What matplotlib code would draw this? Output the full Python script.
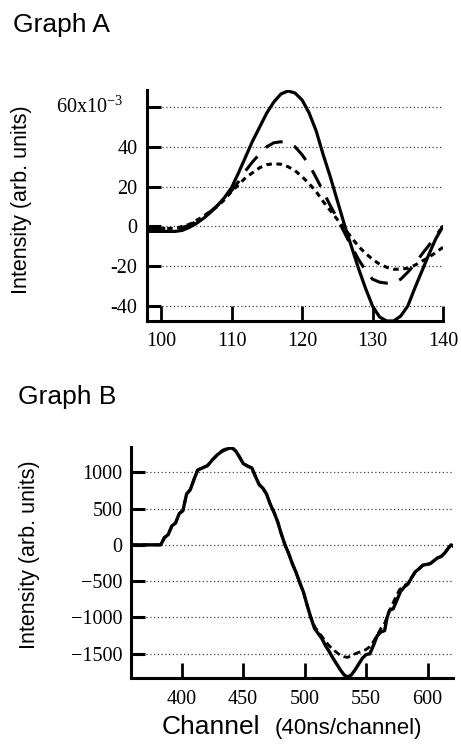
import matplotlib
matplotlib.use("Agg")
import matplotlib.pyplot as plt
from matplotlib.transforms import blended_transform_factory

plt.rcParams['mathtext.fontset'] = 'stix'

# Graph A data (channel, intensity x 1e-3)
a_ch = list(range(98, 141))
a_solid = [-2.5, -2.5, -2.5, -2.5, -2.5, -2, -0.5, 1.5, 4, 7, 10.5, 14.5, 19.5, 27, 35, 43, 50, 57,
           62.5, 66.5, 68, 67, 63.5, 57, 48, 36, 25, 13, 1, -10, -21, -31, -40, -45.5, -47.5, -47.5,
           -45, -40, -31, -22.5, -14, -6, 0]
a_dash = [-1, -1, -1, -1, -1, -0.5, 0.5, 2.5, 5, 7.5, 10.5, 14, 18, 22.5, 28, 32.5, 36.5, 40,
          42, 42.5, 42, 40, 36, 31, 24.5, 17.5, 10.5, 4, -3, -10, -16.5, -22, -26.5, -28, -28.5,
          -28.5, -26.5, -23, -19, -14, -9.5, -4.5, 0]
a_dot = [-1, -1, -1, -1, -1, 0, 1, 3, 5, 7.5, 10, 13.5, 17.5, 21, 24.5, 27, 29.5, 31, 31.5,
         31.2, 30, 28, 25, 21.5, 17.5, 12.5, 8, 3.5, -1, -5.5, -10, -13.5, -16.5, -19, -20.5,
         -21.5, -21.5, -21, -19.5, -17.5, -15.5, -13, -10.5]

# Graph B data
b_ch = [359, 383, 386, 389, 392, 395, 398, 401, 404, 407, 410, 413, 417, 421, 425, 429, 433,
        437, 441, 444, 447, 450, 454, 457, 460, 463, 466, 469, 472, 475, 478, 481, 484, 487,
        490, 493, 496, 499, 502, 505, 508, 511, 514, 517, 520, 523, 526, 529, 532, 535, 538,
        541, 544, 547, 550, 553, 556, 559, 562, 565, 567, 569, 572, 575, 578, 581, 584, 587,
        590, 593, 596, 599, 602, 605, 608, 611, 614, 617, 619, 621]
b_solid = [0, 0, 100, 140, 260, 300, 430, 470, 700, 760, 900, 1030, 1060, 1090, 1170, 1240,
           1290, 1320, 1340, 1290, 1210, 1120, 1080, 1060, 940, 830, 780, 700, 560, 450, 320,
           150, 0, -120, -260, -380, -520, -650, -830, -1000, -1150, -1220, -1290, -1390, -1470,
           -1560, -1640, -1720, -1790, -1820, -1790, -1720, -1640, -1560, -1510, -1500, -1380,
           -1250, -1200, -1180, -1000, -900, -880, -760, -640, -580, -540, -450, -370, -330,
           -280, -270, -260, -220, -180, -160, -110, -40, 0, -20]
b_dash_ch = [359, 383, 386, 389, 392, 395, 398, 401, 404, 407, 410, 413, 417, 421, 425, 429,
             433, 437, 441, 444, 447, 450, 454, 457, 460, 463, 466, 469, 472, 475, 478, 481,
             484, 487, 490, 493, 496, 499, 502, 505, 508, 511, 514, 517, 520, 523, 526, 529,
             532, 535, 538, 541, 544, 547, 550, 553, 556, 559, 562, 565, 568, 571, 574, 577,
             580, 584, 587, 590, 593, 596, 599, 602, 605, 608, 611, 614, 617, 619, 621]
b_dash = [0, 0, 100, 140, 260, 300, 430, 470, 700, 760, 900, 1030, 1060, 1090, 1170, 1240,
          1300, 1330, 1330, 1290, 1210, 1120, 1080, 1060, 940, 830, 780, 700, 560, 450, 320,
          150, 0, -120, -260, -380, -520, -650, -830, -1000, -1120, -1200, -1260, -1330, -1390,
          -1440, -1480, -1520, -1540, -1550, -1520, -1500, -1480, -1460, -1440, -1400, -1330,
          -1240, -1150, -1080, -950, -830, -720, -620, -570, -530, -450, -370, -330, -280,
          -270, -260, -220, -180, -160, -110, -40, 0, -20]

a_yticks = [-40, -20, 0, 20, 40, 60]
a_ylabels = ['-40', '-20', '0', '20', '40', '']
a_xticks = [100, 110, 120, 130, 140]
b_yticks = [-1500, -1000, -500, 0, 500, 1000]
b_xticks = [400, 450, 500, 550, 600]

W, H = 461, 746
fig = plt.figure(figsize=(W / 100, H / 100), dpi=100)

serif = 'Liberation Serif'
sans = 'Liberation Sans'


def make_axes(l, r, t, b):
    return fig.add_axes([l / W, 1 - b / H, (r - l) / W, (b - t) / H])


def style(ax, ylab_pad, xlab_pad):
    for s in ['top', 'right']:
        ax.spines[s].set_visible(False)
    for s in ['left', 'bottom']:
        ax.spines[s].set_linewidth(2.2)
    ax.tick_params(axis='x', direction='in', length=10.5, width=2, pad=xlab_pad)
    ax.tick_params(axis='y', direction='in', length=10, width=2.2, pad=ylab_pad)
    for lab in ax.get_xticklabels() + ax.get_yticklabels():
        lab.set_fontfamily(serif)
        lab.set_fontsize(14.5)
    ax.yaxis.grid(True, linestyle=(0, (1, 2)), linewidth=0.9, color='0.25')
    ax.set_axisbelow(True)


# Graph A
axA = make_axes(147, 443, 90, 321)
axA.plot(a_ch, a_solid, color='black', lw=2.3, solid_capstyle='round')
axA.plot(a_ch, a_dash, color='black', lw=2.2, dashes=(6, 4))
axA.plot(a_ch, a_dot, color='black', lw=2.2, dashes=(1.8, 1.5))
axA.set_xlim(98, 140)
axA.set_ylim(-47.5, 68.5)
axA.set_xticks(a_xticks)
axA.set_yticks(a_yticks)
axA.set_yticklabels(a_ylabels)
style(axA, 7, 8)
axA.text(-0.08, 60, '60x10$^{\\mathregular{-3}}$', fontfamily=serif, fontsize=14.5,
         ha='right', va='center',
         transform=blended_transform_factory(axA.transAxes, axA.transData))

# Graph B
axB = make_axes(131, 453, 447, 678)
axB.plot(b_ch, b_solid, color='black', lw=2.4)
axB.plot(b_dash_ch, b_dash, color='black', lw=2.0, dashes=(2.5, 1.5))
axB.set_xlim(358.8, 620.6)
axB.set_ylim(-1833, 1347)
axB.set_xticks(b_xticks)
axB.set_yticks(b_yticks)
style(axB, 6, 9)

# titles and labels
fig.text(13 / W, 1 - 25 / H, 'Graph A', fontfamily=sans, fontsize=19, ha='left', va='center')
fig.text(18 / W, 1 - 397 / H, 'Graph B', fontfamily=sans, fontsize=19, ha='left', va='center')
fig.text(22 / W, 1 - 200 / H, 'Intensity (arb. units)', fontfamily=sans, fontsize=15.5,
         rotation=90, ha='center', va='center')
fig.text(30 / W, 1 - 555 / H, 'Intensity (arb. units)', fontfamily=sans, fontsize=15.5,
         rotation=90, ha='center', va='center')
fig.text(162 / W, 1 - 734 / H, 'Channel', fontfamily=sans, fontsize=19, ha='left',
         va='baseline')
fig.text(275 / W, 1 - 734 / H, '(40ns/channel)', fontfamily=sans, fontsize=16,
         ha='left', va='baseline')

fig.savefig('out.png', dpi=100)
